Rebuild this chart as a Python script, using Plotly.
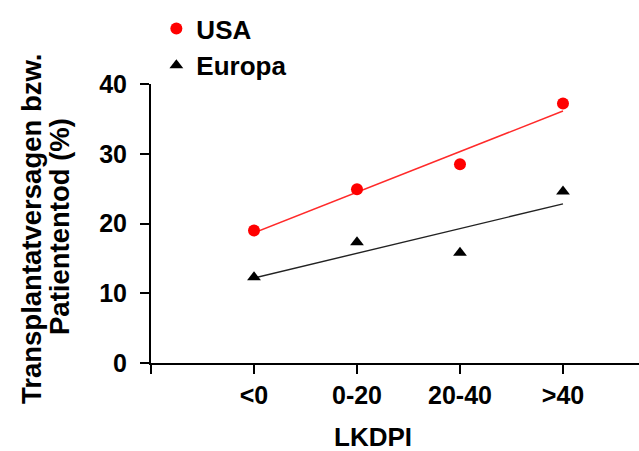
import numpy as np
import plotly.graph_objects as go

categories = ["<0", "0-20", "20-40", ">40"]
usa = [19.0, 24.9, 28.5, 37.2]
europa = [12.3, 17.3, 15.8, 24.6]
y_ticks = [0, 10, 20, 30, 40]

FONT = "Liberation Sans, Arial, sans-serif"
xs = list(range(len(categories)))

def trend(vals):
    m, b = np.polyfit(xs, vals, 1)
    return [m * x + b for x in xs]

fig = go.Figure()
fig.add_trace(go.Scatter(x=xs, y=trend(usa), mode="lines",
                         line=dict(color="#ff2a2a", width=1.4),
                         showlegend=False, hoverinfo="skip"))
fig.add_trace(go.Scatter(x=xs, y=trend(europa), mode="lines",
                         line=dict(color="#222222", width=1.4),
                         showlegend=False, hoverinfo="skip"))
fig.add_trace(go.Scatter(x=xs, y=usa, mode="markers", name="USA",
                         marker=dict(symbol="circle", size=12, color="#ff0000")))
fig.add_trace(go.Scatter(x=xs, y=europa, mode="markers", name="Europa",
                         marker=dict(symbol="triangle-up", size=12, color="#000000")))

fig.update_layout(
    width=639, height=451,
    margin=dict(l=151, r=0, t=84, b=88, pad=0),
    paper_bgcolor="white", plot_bgcolor="white",
    font=dict(family=FONT, color="black", size=26),
    showlegend=True,
    legend=dict(x=0.011, y=1.283, xanchor="left", yanchor="top",
                font=dict(family=FONT, size=26, weight="bold"),
                bgcolor="rgba(0,0,0,0)", tracegroupgap=0, itemsizing="trace"),
    xaxis=dict(range=[-1, 3.738], tickmode="array",
               tickvals=[-1] + xs, ticktext=[""] + categories,
               showline=True, linecolor="black", linewidth=2,
               ticks="outside", ticklen=9, tickwidth=2, tickcolor="black",
               showgrid=False, zeroline=False,
               tickfont=dict(family=FONT, size=25, weight="bold")),
    yaxis=dict(range=[0, 40], tickmode="array", tickvals=y_ticks,
               showline=True, linecolor="black", linewidth=2,
               ticks="outside", ticklen=9, tickwidth=2, tickcolor="black",
               showgrid=False, zeroline=False, ticklabelstandoff=8,
               tickfont=dict(family=FONT, size=25, weight="bold")),
    annotations=[
        dict(text="Transplantatversagen bzw.", xref="paper", yref="paper",
             x=(31 - 151) / 488, y=(363 - 229) / 279, xanchor="center", yanchor="middle",
             textangle=-90, showarrow=False,
             font=dict(family=FONT, size=27.5, weight="bold")),
        dict(text="Patiententod (%)", xref="paper", yref="paper",
             x=(59 - 151) / 488, y=(363 - 227) / 279, xanchor="center", yanchor="middle",
             textangle=-90, showarrow=False,
             font=dict(family=FONT, size=27.5, weight="bold")),
        dict(text="LKDPI", xref="paper", yref="paper",
             x=(373 - 151) / 488, y=(363 - 437) / 279, xanchor="center", yanchor="middle",
             showarrow=False, font=dict(family=FONT, size=26, weight="bold")),
    ],
)

fig.write_html("out.html", config={"displayModeBar": False},
               post_script="document.body.style.margin='0';")
